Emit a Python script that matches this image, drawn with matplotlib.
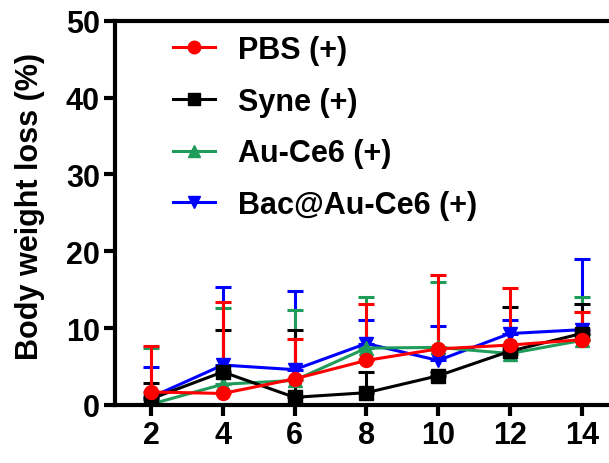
import matplotlib.pyplot as plt
from matplotlib.lines import Line2D
import numpy as np

plt.rcParams['font.family'] = ['Liberation Sans', 'DejaVu Sans']
plt.rcParams['font.weight'] = 'bold'

days = [2, 4, 6, 8, 10, 12, 14]

pbs = [1.7, 1.5, 3.4, 5.8, 7.3, 7.8, 8.5]
pbs_top = [7.7, 13.4, 8.6, 13.2, 16.9, 15.2, 12.1]

syne = [0.8, 4.3, 1.0, 1.6, 3.8, 7.0, 9.3]
syne_top = [2.8, 9.8, 9.8, 4.3, 4.3, 12.7, 13.1]

auce6 = [0.1, 2.7, 3.2, 7.4, 7.5, 6.7, 8.4]
auce6_top = [7.4, 12.6, 12.3, 14.1, 16.0, 7.6, 14.0]

bac = [1.0, 5.2, 4.6, 8.0, 5.8, 9.3, 9.8]
bac_top = [5.0, 15.4, 14.8, 11.0, 10.3, 11.1, 19.0]

labels = ["PBS (+)", "Syne (+)", "Au-Ce6 (+)", "Bac@Au-Ce6 (+)"]

fig = plt.figure(figsize=(6.09, 4.64), dpi=100)
ax = fig.add_axes([0.189, 0.125, 0.825, 0.828])

series = [
    (bac, bac_top, "#0000ff", "v", labels[3]),
    (auce6, auce6_top, "#1f9c5a", "^", labels[2]),
    (syne, syne_top, "black", "s", labels[1]),
    (pbs, pbs_top, "#ff0000", "o", labels[0]),
]
handles = {}
for y, top, c, m, lab in series:
    y = np.array(y)
    err = np.array(top) - y
    ax.errorbar(days, y, yerr=[np.zeros_like(err), err], color=c, marker=m,
                markersize=10, lw=2.2, elinewidth=2.2, capsize=6, capthick=2.2)
    handles[lab] = Line2D([], [], color=c, marker=m, markersize=9, lw=2.2)

ax.set_xlim(1, 15)
ax.set_ylim(0, 50)
ax.set_xticks(days)
ax.set_yticks([0, 10, 20, 30, 40, 50])
ax.tick_params(width=3, length=8, labelsize=22, pad=3)
for s in ["left", "bottom", "top"]:
    ax.spines[s].set_linewidth(3)
ax.spines["right"].set_visible(False)
for t in ax.get_xticklabels() + ax.get_yticklabels():
    t.set_fontweight('bold')

ax.set_ylabel("Body weight loss (%)", fontsize=22, fontweight='bold')
ax.yaxis.set_label_coords(-0.14, 0.52)

ax.legend([handles[l] for l in labels], labels, loc="upper left",
          bbox_to_anchor=(0.09, 0.995), borderaxespad=0, frameon=False,
          fontsize=22, handlelength=1.4, labelspacing=0.71, handletextpad=0.75)

fig.savefig("out.png", dpi=100)
